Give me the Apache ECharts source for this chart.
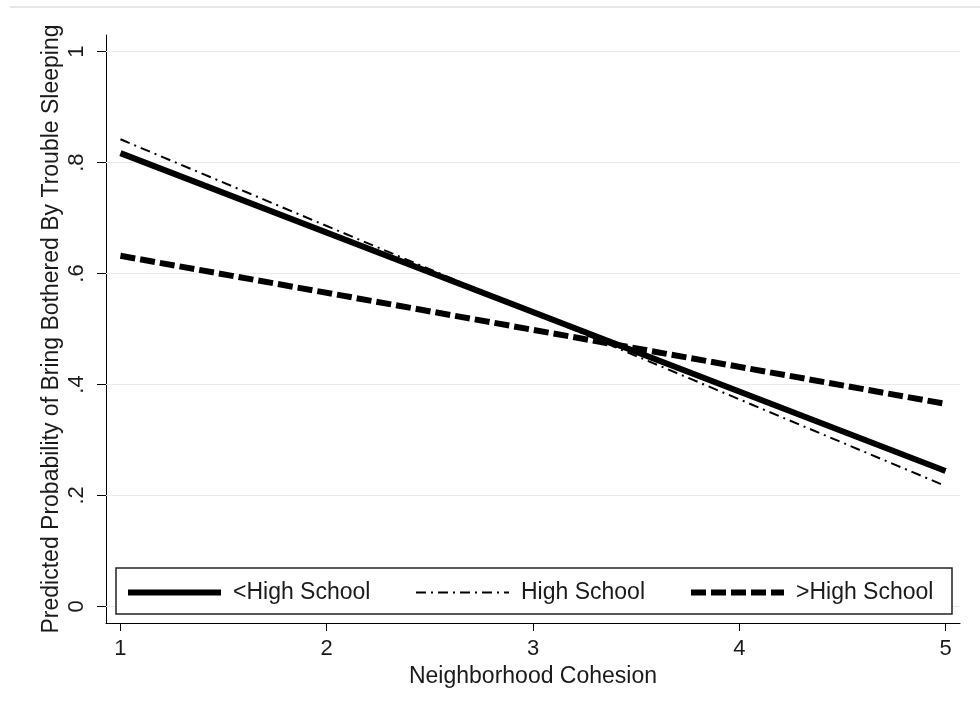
<!DOCTYPE html>
<html>
<head>
<meta charset="utf-8">
<script src="https://cdn.jsdelivr.net/npm/echarts@6/dist/echarts.min.js"></script>
<style>
html,body{margin:0;padding:0;background:#fff;}
#chart{width:980px;height:713px;}
</style>
</head>
<body>
<div id="chart"></div>
<script>
// ---- data ----
const xValues = [1, 5];
const lessHighSchool = [0.817, 0.244];
const highSchool = [0.842, 0.217];
const moreHighSchool = [0.632, 0.365];
const seriesNames = ['<High School', 'High School', '>High School'];
const xTicks = [1, 2, 3, 4, 5];
const yTicks = [0, 0.2, 0.4, 0.6, 0.8, 1];
const xTitle = 'Neighborhood Cohesion';
const yTitle = 'Predicted Probability of Bring Bothered By Trouble Sleeping';

const FONT = '"Liberation Sans", Arial, sans-serif';
const TXT = '#1a1a1a';

function pairs(xs, ys) { return xs.map((x, i) => [x, ys[i]]); }
function yFmt(v) {
  if (v === 0) return '0';
  if (v === 1) return '1';
  return String(+v.toFixed(2)).replace(/^0/, '');
}

const chart = echarts.init(document.getElementById('chart'), null, {renderer: 'canvas'});

const legendBase = {
  top: 581,
  padding: 0,
  z: 20,
  itemWidth: 93,
  itemHeight: 14,
  itemStyle: {opacity: 0},
  textStyle: {fontFamily: FONT, fontSize: 23, color: TXT, padding: [0, 0, 0, 7]},
  selectedMode: false
};

chart.setOption({
  animation: false,
  backgroundColor: '#fff',
  grid: {left: 106, right: 20, top: 35, bottom: 90, containLabel: false},
  xAxis: {
    type: 'value', min: 0.93, max: 5.07,
    name: xTitle, nameLocation: 'middle', nameGap: 42, nameMoveOverlap: false,
    nameTextStyle: {fontFamily: FONT, fontSize: 23, color: TXT},
    axisLine: {show: true, onZero: false, lineStyle: {color: '#000', width: 1}},
    axisTick: {show: true, length: 8, customValues: xTicks, lineStyle: {color: '#000'}},
    axisLabel: {customValues: xTicks, margin: 15, fontFamily: FONT, fontSize: 22, color: TXT},
    splitLine: {show: false}
  },
  yAxis: {
    type: 'value', min: -0.03, max: 1.03,
    name: yTitle, nameLocation: 'middle', nameGap: 43, nameMoveOverlap: false,
    nameTextStyle: {fontFamily: FONT, fontSize: 23, color: TXT},
    axisLine: {show: true, onZero: false, lineStyle: {color: '#000', width: 1}},
    axisTick: {show: true, length: 9, customValues: yTicks, lineStyle: {color: '#000'}},
    axisLabel: {customValues: yTicks, rotate: 90, margin: 18, fontFamily: FONT, fontSize: 22, color: TXT, formatter: yFmt},
    splitLine: {show: false}
  },
  legend: [
    Object.assign({}, legendBase, {left: 125, data: [seriesNames[0]], lineStyle: {width: 6}}),
    Object.assign({}, legendBase, {left: 415, data: [seriesNames[1]], lineStyle: {width: 2}}),
    Object.assign({}, legendBase, {left: 688, data: [seriesNames[2]], lineStyle: {width: 6}})
  ],
  graphic: [
    {type: 'line', z: 0, shape: {x1: 10, y1: 7, x2: 980, y2: 7}, style: {stroke: '#e6e6e6', lineWidth: 2}},
    {type: 'rect', z: 10, shape: {x: 116, y: 568, width: 836, height: 46}, style: {fill: '#fff', stroke: '#222', lineWidth: 1.5}}
  ],
  series: [
    {
      type: 'line', name: '_grid', z: 1, silent: true, data: [],
      markLine: {
        silent: true, symbol: 'none', label: {show: false},
        lineStyle: {color: '#e9e9e9', width: 1, type: 'solid'},
        data: yTicks.map(v => ({yAxis: v}))
      }
    },
    {
      type: 'line', name: seriesNames[0], z: 5, symbol: 'none',
      data: pairs(xValues, lessHighSchool),
      lineStyle: {color: '#000', width: 6, type: 'solid'},
      itemStyle: {color: '#000'}
    },
    {
      type: 'line', name: seriesNames[1], z: 5, symbol: 'none',
      data: pairs(xValues, highSchool),
      lineStyle: {color: '#000', width: 2, type: [10, 5, 2, 5]},
      itemStyle: {color: '#000'}
    },
    {
      type: 'line', name: seriesNames[2], z: 5, symbol: 'none',
      data: pairs(xValues, moreHighSchool),
      lineStyle: {color: '#000', width: 6, type: [15, 5]},
      itemStyle: {color: '#000'}
    }
  ]
});
</script>
</body>
</html>
